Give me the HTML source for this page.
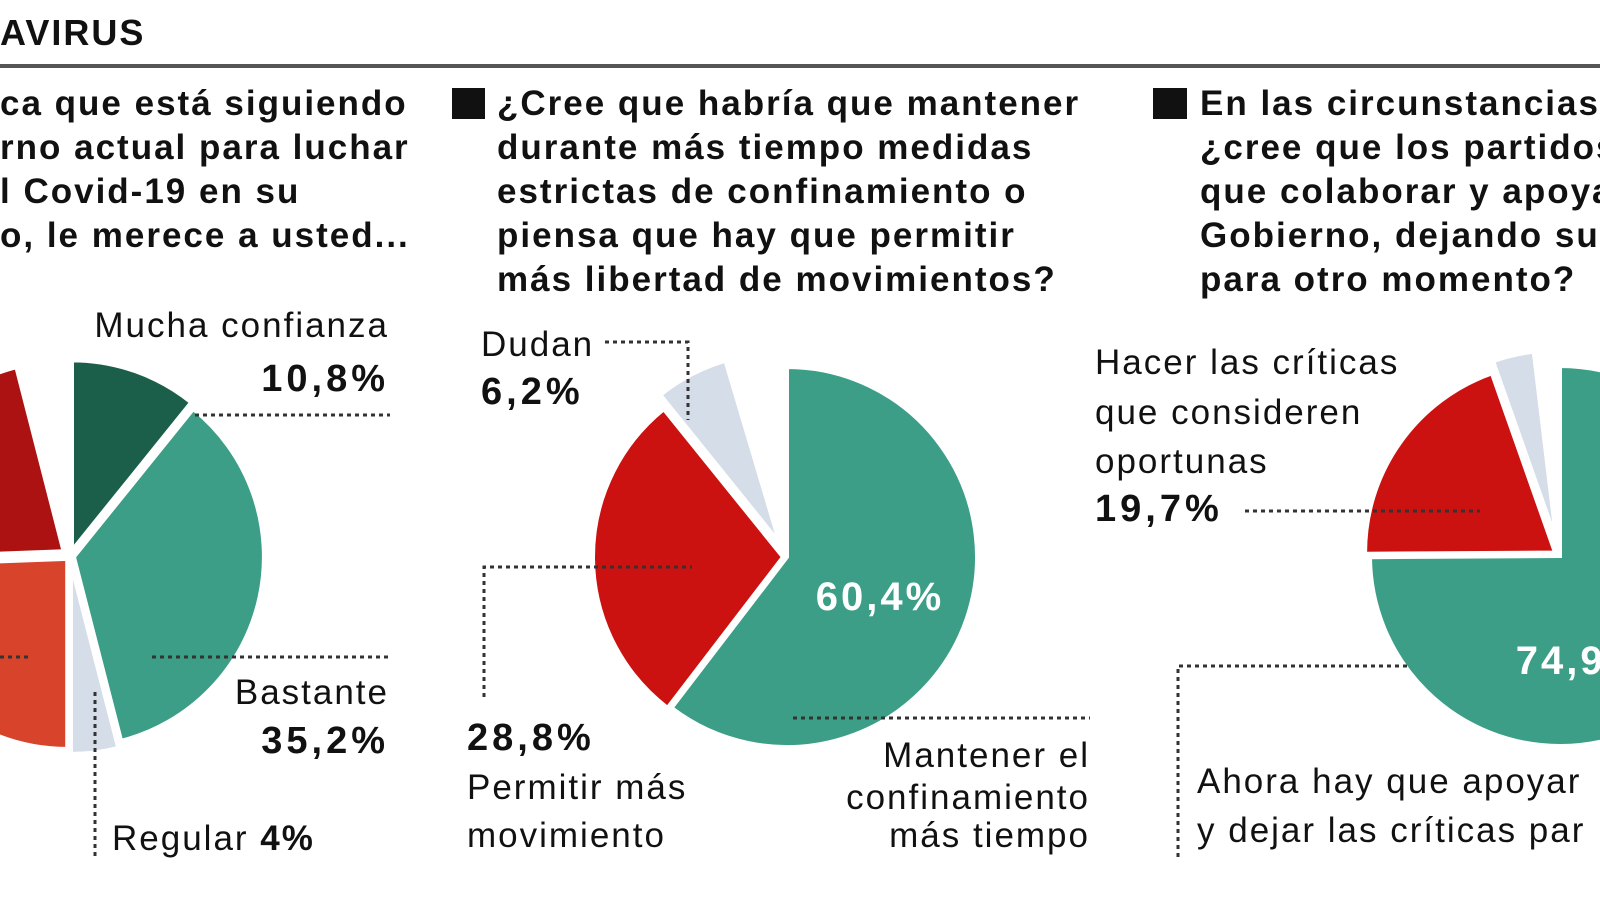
<!DOCTYPE html>
<html><head><meta charset="utf-8">
<style>
html,body{margin:0;padding:0;background:#fff;}
svg{display:block;font-family:"Liberation Sans",sans-serif;}
.t{font-size:35px;font-weight:bold;fill:#111;letter-spacing:2px;}
.l{font-size:35px;fill:#111;letter-spacing:2px;}
.b{font-size:38px;font-weight:bold;fill:#111;letter-spacing:4px;}
.dot{stroke:#333;stroke-width:3;stroke-dasharray:4 4;fill:none;}
</style></head>
<body>
<svg id="chart" width="1600" height="900" viewBox="0 0 1600 900">
<text x="0" y="45" style="font-size:36px;font-weight:bold;letter-spacing:2px" fill="#111">AVIRUS</text>
<rect x="0" y="64" width="1600" height="4" fill="#555"/>

<g>
<text class="t" x="0" y="115">ca que está siguiendo</text>
<text class="t" x="0" y="159">rno actual para luchar</text>
<text class="t" x="0" y="203">l Covid-19 en su</text>
<text class="t" x="0" y="247">o, le merece a usted...</text>
</g>
<g>
<rect x="452" y="88" width="33" height="31" fill="#111"/>
<text class="t" x="497" y="115">¿Cree que habría que mantener</text>
<text class="t" x="497" y="159">durante más tiempo medidas</text>
<text class="t" x="497" y="203">estrictas de confinamiento o</text>
<text class="t" x="497" y="247">piensa que hay que permitir</text>
<text class="t" x="497" y="291">más libertad de movimientos?</text>
</g>
<g>
<rect x="1153" y="88" width="34" height="31" fill="#111"/>
<text class="t" x="1200" y="115">En las circunstancias actuales,</text>
<text class="t" x="1200" y="159">¿cree que los partidos tienen</text>
<text class="t" x="1200" y="203">que colaborar y apoyar al</text>
<text class="t" x="1200" y="247">Gobierno, dejando sus críticas</text>
<text class="t" x="1200" y="291">para otro momento?</text>
</g>

<g id="pies"></g>

<g>
<text class="l" x="389" y="337" text-anchor="end">Mucha confianza</text>
<text class="b" x="389" y="391" text-anchor="end">10,8%</text>
<line class="dot" x1="195" y1="415" x2="390" y2="415"/>
<line class="dot" x1="152" y1="657" x2="390" y2="657"/>
<line class="dot" x1="0" y1="657" x2="30" y2="657"/>
<text class="l" x="389" y="704" text-anchor="end">Bastante</text>
<text class="b" x="389" y="753" text-anchor="end">35,2%</text>
<line class="dot" x1="95" y1="692" x2="95" y2="856"/>
<text class="l" x="112" y="850">Regular <tspan style="font-weight:bold">4%</tspan></text>
</g>
<g>
<text class="l" x="481" y="356">Dudan</text>
<text class="b" x="481" y="404">6,2%</text>
<polyline class="dot" points="605,342 688,342 688,420"/>
<polyline class="dot" points="484,697 484,567 692,567"/>
<text class="b" x="467" y="750">28,8%</text>
<text class="l" x="467" y="799">Permitir más</text>
<text class="l" x="467" y="847">movimiento</text>
<line class="dot" x1="793" y1="718" x2="1090" y2="718"/>
<text class="l" x="1090" y="767" text-anchor="end">Mantener el</text>
<text class="l" x="1090" y="809" text-anchor="end">confinamiento</text>
<text class="l" x="1090" y="847" text-anchor="end">más tiempo</text>
</g>
<g>
<text class="l" x="1095" y="374">Hacer las críticas</text>
<text class="l" x="1095" y="424">que consideren</text>
<text class="l" x="1095" y="473">oportunas</text>
<text class="b" x="1095" y="521">19,7%</text>
<line class="dot" x1="1245" y1="511" x2="1480" y2="511"/>
<polyline class="dot" points="1178,857 1178,666 1410,666"/>
<text class="l" x="1197" y="793">Ahora hay que apoyar</text>
<text class="l" x="1197" y="842">y dejar las críticas par</text>
</g>
</svg>
<script>
const pie1Labels = ["Mucha confianza","Bastante","Regular","Poca confianza","Ninguna confianza"];
const pie1Values = [10.8, 35.2, 4, 24.4, 21.6];
const pie2Labels = ["Mantener el confinamiento","Permitir más movimiento","Dudan"];
const pie2Values = [60.4, 28.8, 6.2];
const pie3Labels = ["Ahora hay que apoyar","Hacer las críticas","No sabe"];
const pie3Values = [74.9, 19.7, 3.5];
const pie1Colors = ["#1b5e4a","#3c9e86","#d5dde8","#d8432c","#ad1212"];
const pie2Colors = ["#3c9e86","#cc1111","#d5dde8"];
const pie3Colors = ["#3c9e86","#cc1111","#d5dde8"];
const NS = "http://www.w3.org/2000/svg";
const g = document.getElementById('pies');
function pt(cx, cy, r, pct) {
  const a = pct / 100 * 2 * Math.PI;
  return [cx + r * Math.sin(a), cy - r * Math.cos(a)];
}
function drawPie(name, cx, cy, r, values, colors, explode) {
  let acc = 0;
  values.forEach((v, i) => {
    const mid = acc + v / 2;
    const e = explode[i] || 0;
    const [ox, oy] = pt(0, 0, e, mid);
    const x0 = cx + ox, y0 = cy + oy;
    const [x1, y1] = pt(x0, y0, r, acc);
    const [x2, y2] = pt(x0, y0, r, acc + v);
    const large = v > 50 ? 1 : 0;
    const p = document.createElementNS(NS, 'path');
    p.setAttribute('d', `M${x0},${y0} L${x1},${y1} A${r},${r} 0 ${large} 1 ${x2},${y2} Z`);
    p.setAttribute('fill', colors[i]);
    p.setAttribute('stroke', '#fff');
    p.setAttribute('stroke-width', '4');
    
    
    g.appendChild(p);
    acc += v;
  });
}
drawPie('pie1', 70, 556, 190, pie1Values, pie1Colors, [6, 4, 8, 4, 8]);
drawPie('pie2', 787, 557, 190, pie2Values, pie2Colors, [0, 4, 16]);
drawPie('pie3', 1560, 556, 190, pie3Values, pie3Colors, [0, 6, 16]);
function addText(name, x, y, s) {
  const t = document.createElementNS(NS, 'text');
  t.setAttribute('x', x); t.setAttribute('y', y);
  t.setAttribute('fill', '#fff');
  t.setAttribute('style', 'font-size:40px;font-weight:bold;letter-spacing:3px');
  t.setAttribute('text-anchor', 'middle');
  
  
  t.textContent = s;
  g.appendChild(t);
}
addText('pie2-value-label', 880, 610, pie2Values[0].toString().replace('.', ',') + '%');
addText('pie3-value-label', 1580, 674, pie3Values[0].toString().replace('.', ',') + '%');
</script>
</body></html>
